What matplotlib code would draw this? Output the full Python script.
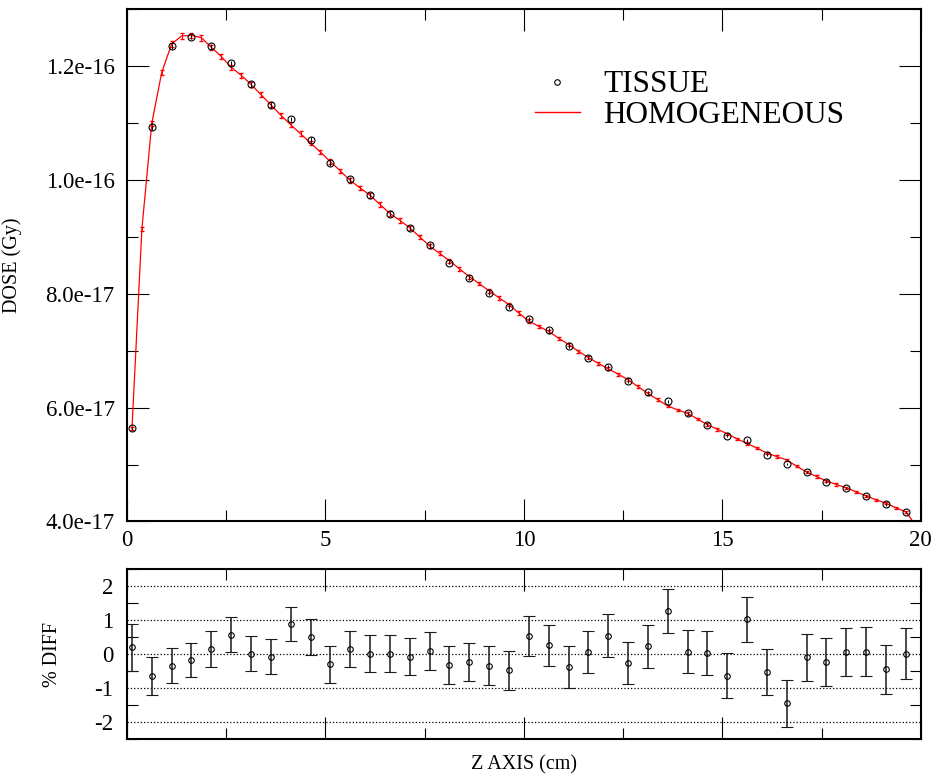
import numpy as np
import matplotlib
matplotlib.use("Agg")
import matplotlib.pyplot as plt
from matplotlib.ticker import MultipleLocator, FuncFormatter
from matplotlib.lines import Line2D

plt.rcParams['font.family'] = ['Liberation Serif', 'DejaVu Serif']
plt.rcParams['axes.unicode_minus'] = False

# depth of the tissue voxels (cm)
tissue_z = [0.125, 0.625, 1.125, 1.625, 2.125, 2.625, 3.125, 3.625, 4.125, 4.625,
            5.125, 5.625, 6.125, 6.625, 7.125, 7.625, 8.125, 8.625, 9.125, 9.625,
            10.125, 10.625, 11.125, 11.625, 12.125, 12.625, 13.125, 13.625, 14.125, 14.625,
            15.125, 15.625, 16.125, 16.625, 17.125, 17.625, 18.125, 18.625, 19.125, 19.625]
# dose, units of 1e-17 Gy
tissue_dose = [5.64, 10.93, 12.35, 12.52, 12.35, 12.05, 11.68, 11.31, 11.07, 10.71,
               10.29, 10.01, 9.73, 9.41, 9.15, 8.85, 8.55, 8.28, 8.02, 7.77,
               7.56, 7.36, 7.08, 6.88, 6.72, 6.47, 6.27, 6.11, 5.90, 5.70,
               5.51, 5.43, 5.17, 5.01, 4.87, 4.70, 4.59, 4.45, 4.30, 4.17]

homog_z = [0.125, 0.375, 0.625, 0.875, 1.125, 1.375, 1.625, 1.875, 2.125, 2.375,
           2.625, 2.875, 3.125, 3.375, 3.625, 3.875, 4.125, 4.375, 4.625, 4.875,
           5.125, 5.375, 5.625, 5.875, 6.125, 6.375, 6.625, 6.875, 7.125, 7.375,
           7.625, 7.875, 8.125, 8.375, 8.625, 8.875, 9.125, 9.375, 9.625, 9.875,
           10.125, 10.375, 10.625, 10.875, 11.125, 11.375, 11.625, 11.875, 12.125, 12.375,
           12.625, 12.875, 13.125, 13.375, 13.625, 13.875, 14.125, 14.375, 14.625, 14.875,
           15.125, 15.375, 15.625, 15.875, 16.125, 16.375, 16.625, 16.875, 17.125, 17.375,
           17.625, 17.875, 18.125, 18.375, 18.625, 18.875, 19.125, 19.375, 19.625, 19.875]
homog_dose = [5.63, 9.14, 11.00, 11.89, 12.39, 12.53, 12.54, 12.50, 12.33, 12.17,
              11.98, 11.84, 11.68, 11.50, 11.32, 11.14, 10.97, 10.81, 10.65, 10.49,
              10.32, 10.16, 9.99, 9.86, 9.73, 9.57, 9.41, 9.29, 9.16, 9.00,
              8.84, 8.71, 8.58, 8.44, 8.30, 8.18, 8.05, 7.93, 7.81, 7.66,
              7.52, 7.43, 7.34, 7.22, 7.11, 6.99, 6.88, 6.78, 6.68, 6.59,
              6.49, 6.37, 6.25, 6.14, 6.03, 5.96, 5.90, 5.80, 5.70, 5.62,
              5.54, 5.45, 5.37, 5.29, 5.20, 5.14, 5.08, 4.97, 4.87, 4.79,
              4.71, 4.65, 4.59, 4.52, 4.45, 4.38, 4.32, 4.24, 4.17, 3.93]
homog_rel_err = 0.4  # percent

# percent difference tissue vs homogeneous and its uncertainty
pct_diff = [0.21, -0.65, -0.33, -0.17, 0.16, 0.58, 0.02, -0.07, 0.89, 0.52,
            -0.29, 0.16, 0.02, 0.02, -0.07, 0.10, -0.32, -0.23, -0.33, -0.47,
            0.53, 0.26, -0.38, 0.07, 0.55, -0.26, 0.24, 1.27, 0.08, 0.03,
            -0.63, 1.03, -0.53, -1.44, -0.09, -0.22, 0.07, 0.08, -0.44, 0.02]
pct_err = [0.69, 0.56, 0.52, 0.51, 0.52, 0.51, 0.51, 0.52, 0.51, 0.53,
           0.54, 0.53, 0.54, 0.54, 0.55, 0.56, 0.55, 0.56, 0.58, 0.58,
           0.59, 0.59, 0.62, 0.62, 0.62, 0.62, 0.63, 0.64, 0.64, 0.65,
           0.66, 0.66, 0.68, 0.69, 0.69, 0.70, 0.71, 0.72, 0.72, 0.75]

tissue_dose = np.array(tissue_dose) * 1e-17
homog_dose = np.array(homog_dose) * 1e-17
tissue_err = tissue_dose * np.array(pct_err) / 100 / np.sqrt(2)
homog_err = homog_dose * homog_rel_err / 100

fig = plt.figure(figsize=(9.38, 7.76), dpi=100)
ax1 = fig.add_axes([0.1354, 0.3280, 0.8462, 0.6601])
ax2 = fig.add_axes([0.1354, 0.0473, 0.8462, 0.2191])

ax1.errorbar(homog_z, homog_dose, yerr=homog_err, color='red', lw=0.9,
             elinewidth=0.7, capsize=1.5, zorder=2)
ax1.errorbar(tissue_z, tissue_dose, yerr=tissue_err, fmt='o', ms=5, mfc='none',
             mec='black', mew=0.8, ecolor='black', elinewidth=0.7, capsize=0,
             zorder=3)

ax1.set_xlim(0, 20)
ax1.set_ylim(4e-17, 1.3e-16)
ax1.xaxis.set_major_locator(MultipleLocator(5))
ax1.xaxis.set_minor_locator(MultipleLocator(2.5))
ax1.yaxis.set_major_locator(MultipleLocator(2e-17))
ax1.yaxis.set_minor_locator(MultipleLocator(1e-17))
ax1.yaxis.set_major_formatter(FuncFormatter(lambda v, p: f"{v:.1e}"))
ax1.set_ylabel('DOSE (Gy)', fontsize=14.5)
ax1.yaxis.set_label_coords(-0.132, 0.5)

leg_handles = [Line2D([], [], ls='none', marker='o', ms=4, mfc='none', mec='black', mew=0.8),
               Line2D([], [], color='red', lw=1.0)]
ax1.legend(leg_handles, ['TISSUE', 'HOMOGENEOUS'], loc='upper left',
           bbox_to_anchor=(0.494, 0.911), frameon=False, fontsize=22.5,
           handlelength=1.45, handletextpad=0.75, labelspacing=0.05, borderpad=0)

ax2.errorbar(tissue_z, pct_diff, yerr=pct_err, fmt='o', ms=4, mfc='none',
             mec='black', mew=0.8, ecolor='0.1', elinewidth=1.1, capsize=4.5,
             capthick=1.1)
ax2.set_xlim(0, 20)
ax2.set_ylim(-2.5, 2.5)
ax2.xaxis.set_major_locator(MultipleLocator(5))
ax2.xaxis.set_minor_locator(MultipleLocator(2.5))
ax2.yaxis.set_major_locator(MultipleLocator(1))
ax2.yaxis.set_minor_locator(MultipleLocator(0.5))
ax2.yaxis.set_major_formatter(FuncFormatter(lambda v, p: f"{v:.0f}"))
ax2.tick_params(axis='x', labelbottom=False)
ax2.grid(axis='y', which='major', ls=':', color='black', lw=0.9)
ax2.set_xlabel('Z AXIS (cm)', fontsize=14.5, labelpad=8)
ax2.set_ylabel('% DIFF', fontsize=14.5)
ax2.yaxis.set_label_coords(-0.082, 0.5)

for ax in (ax1, ax2):
    for s in ax.spines.values():
        s.set_linewidth(1.5)
    ax.tick_params(which='both', direction='in', top=True, right=True,
                   labelsize=16.5, width=0.8)
    ax.tick_params(which='major', length=16, pad=9)
    ax.tick_params(which='minor', length=8)
    ax.yaxis.get_offset_text().set_visible(False)
    ax.xaxis.get_offset_text().set_visible(False)
ax1.tick_params(axis='x', which='major', pad=6)
ax2.tick_params(axis='y', which='major', length=0, pad=10)

fig.savefig('out.png', dpi=100)
